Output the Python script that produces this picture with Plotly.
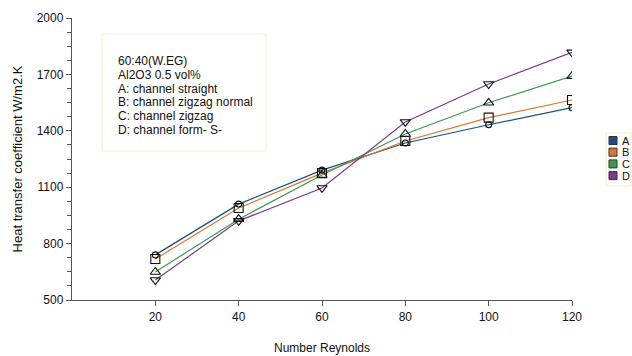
import plotly.graph_objects as go

reynolds = [20, 40, 60, 80, 100, 120]
series_a = [740, 1010, 1191, 1335, 1432, 1523]
series_b = [718, 989, 1175, 1346, 1470, 1564]
series_c = [649, 930, 1165, 1383, 1549, 1691]
series_d = [606, 921, 1096, 1447, 1649, 1817]
names = ["A", "B", "C", "D"]
colors = ["#17507e", "#e2742e", "#3b9a4f", "#7d3a8b"]
symbols = ["circle-open", "square-open", "triangle-up-open", "triangle-down-open"]
sizes = [6, 9, 9, 9]
x_ticks = [20, 40, 60, 80, 100, 120]
note_lines = ["60:40(W.EG)", "Al2O3 0.5 vol%", "A: channel straight", "B: channel zigzag normal",
              "C: channel zigzag", "D: channel form- S-"]

FONT = "Liberation Sans, Arial"
fig = go.Figure()
all_series = [series_a, series_b, series_c, series_d]
for name, vals, col in zip(names, all_series, colors):
    fig.add_trace(go.Scatter(x=reynolds, y=vals, mode="lines", line=dict(color=col, width=1.2),
                             showlegend=False, hoverinfo="skip"))
for name, vals, sym, sz in zip(names, all_series, symbols, sizes):
    fig.add_trace(go.Scatter(x=reynolds, y=vals, mode="markers", name=name,
                             marker=dict(symbol=sym, size=sz, color="#111111", line=dict(width=1.1, color="#111111")),
                             showlegend=False))

# plot area in px: x 72..572, y 18..300
def px(xp):
    return (xp - 72) / 500.0
def py(yp):
    return (300 - yp) / 282.0

# note box
fig.add_shape(type="rect", xref="paper", yref="paper", x0=px(102), x1=px(266), y0=py(151), y1=py(34),
              line=dict(color="#f4efc9", width=1), fillcolor="rgba(0,0,0,0)")
for i, t in enumerate(note_lines):
    fig.add_annotation(xref="paper", yref="paper", x=px(116), y=py(60.7 + 13.9 * i), xanchor="left",
                       yanchor="middle", showarrow=False, text=t,
                       font=dict(family=FONT, size=12, color="#111111"))

# legend box
fig.add_shape(type="rect", xref="paper", yref="paper", x0=px(606), x1=px(631), y0=py(186), y1=py(133),
              line=dict(color="#f4efc9", width=1), fillcolor="white")
for i, (name, col) in enumerate(zip(names, colors)):
    top = 136.5 + 11.7 * i
    fig.add_shape(type="rect", xref="paper", yref="paper", x0=px(609), x1=px(617), y0=py(top + 8), y1=py(top),
                  line=dict(color="#333333", width=1), fillcolor=col)
    fig.add_annotation(xref="paper", yref="paper", x=px(620), y=py(top + 4), xanchor="left", yanchor="middle",
                       showarrow=False, text=name, font=dict(family=FONT, size=11, color="#111111"))

fig.update_layout(
    width=632, height=356,
    margin=dict(l=72, r=60, t=18, b=56, autoexpand=False),
    plot_bgcolor="white", paper_bgcolor="white",
    font=dict(family=FONT, size=12, color="#111111"),
    showlegend=False,
    xaxis=dict(range=[0, 120], tickmode="array", tickvals=x_ticks, showline=True, linecolor="#555555", linewidth=1.2,
               ticks="outside", ticklen=5, tickcolor="#555555", showgrid=False, zeroline=False,
               title=dict(text="Number Reynolds", font=dict(size=12), standoff=21)),
    yaxis=dict(range=[500, 2000], tickmode="linear", tick0=500, dtick=300, showline=True, linecolor="#555555",
               linewidth=1.2, ticks="outside", ticklen=5, tickcolor="#555555", showgrid=False, zeroline=False,
               minor=dict(dtick=75, tick0=500, ticks="outside", ticklen=4, tickwidth=1, tickcolor="#555555",
                          showgrid=False),
               title=dict(text="Heat transfer coefficient W/m2.K", font=dict(size=13), standoff=11)),
)
fig.write_html("out.html", config={"displayModeBar": False, "staticPlot": True},
               post_script="document.body.style.margin='0';document.body.style.overflow='hidden';")
